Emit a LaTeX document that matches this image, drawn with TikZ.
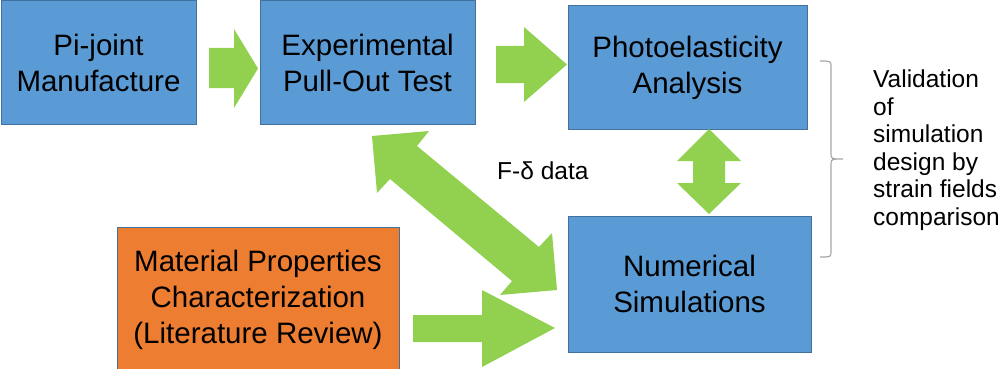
\documentclass[tikz,border=0pt]{standalone}
\usepackage{fontspec}
\setmainfont{Liberation Sans}
\definecolor{boxblue}{HTML}{5B9BD5}
\definecolor{boxedge}{HTML}{41719C}
\definecolor{boxorange}{HTML}{ED7D31}
\definecolor{arrowgreen}{HTML}{92D050}
\definecolor{bracegray}{HTML}{A6A6A6}
\begin{document}
\begin{tikzpicture}[x=1pt,y=-1pt,
  flowbox/.style={draw=boxedge, line width=1pt, fill=boxblue, align=center, inner sep=0pt,
    font=\fontsize{29.5}{36}\selectfont},
  orangebox/.style={flowbox, fill=boxorange},
  blockarrow/.style={fill=arrowgreen, draw=none},
  sidetext/.style={font=\fontsize{24.5}{27.6}\selectfont, inner sep=0pt, align=left},
  bracestyle/.style={draw=bracegray, line width=1.2pt}]
\useasboundingbox (0,0) rectangle (1003,369);
\clip (0,0) rectangle (1003,369);

% boxes
\node[flowbox, minimum width=195pt, minimum height=123pt] (pi) at (98.5,62.5) {Pi-joint\\Manufacture};
\node[flowbox, minimum width=215pt, minimum height=123pt] (exp) at (367.5,62.5) {Experimental\\Pull-Out Test};
\node[flowbox, minimum width=239pt, minimum height=123pt] (photo) at (687.5,67.5) {Photoelasticity\\Analysis};
\node[flowbox, minimum width=243pt, minimum height=136pt] (num) at (689.5,284) {Numerical\\Simulations};
\node[orangebox, minimum width=282pt, minimum height=145pt] (mat) at (258,299.5) {Material Properties\\Characterization\\(Literature Review)};

% block arrows
\fill[blockarrow] (209,48) -- (234,48) -- (234,29) -- (258,68.5) -- (234,108) -- (234,88) -- (209,88) -- cycle;
\fill[blockarrow] (496,46) -- (524,46) -- (524,27) -- (567,64.5) -- (524,102) -- (524,83) -- (496,83) -- cycle;
\fill[blockarrow] (413,315) -- (482,315) -- (482,290) -- (555,328) -- (482,367) -- (482,342) -- (413,342) -- cycle;
\fill[blockarrow] (709,129) -- (741,161) -- (725,161) -- (725,183) -- (741,183) -- (709,214)
  -- (677,183) -- (693,183) -- (693,161) -- (677,161) -- cycle;
\fill[blockarrow] (372,136) -- (429,131) -- (417,146) -- (539,247) -- (552,233) -- (557,290)
  -- (500,295) -- (512,281) -- (390,179) -- (377,193) -- cycle;

% brace
\draw[bracestyle] (820,61) .. controls (831,61) .. (831,67) -- (831,153)
  .. controls (831,159) .. (843,159) .. controls (831,159) .. (831,165) -- (831,251)
  .. controls (831,257) .. (820,257);

% texts
\node[sidetext, anchor=north west] (valid) at (873,69.5) {Validation\\of\\simulation\\design by\\strain fields\\comparison};
\node[sidetext, anchor=base west] (fdata) at (497,179) {F-δ data};
\end{tikzpicture}
\end{document}
